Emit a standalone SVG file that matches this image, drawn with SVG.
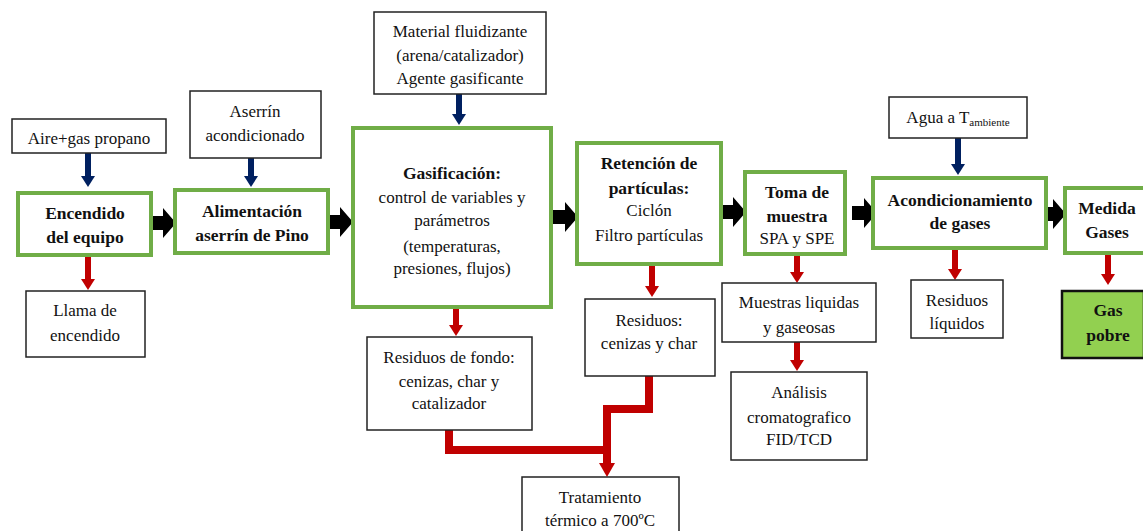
<svg xmlns="http://www.w3.org/2000/svg" width="1143" height="531" viewBox="0 0 1143 531">
<style>
.g{fill:#fff;stroke:#70AD47;stroke-width:4}
.b{fill:#fff;stroke:#222;stroke-width:1.5}
.t{font-family:"Liberation Serif","Times New Roman",serif;font-size:17px;fill:#111;text-anchor:middle}
.tb{font-family:"Liberation Serif","Times New Roman",serif;font-size:17.5px;font-weight:bold;fill:#111;text-anchor:middle}
.blue{stroke:#002060;stroke-width:6;fill:none}
.red{stroke:#C00000;stroke-width:6;fill:none}
.redw{stroke:#C00000;stroke-width:8;fill:none}
</style>
<defs>
<marker id="mb" markerUnits="userSpaceOnUse" markerWidth="11" markerHeight="14" refX="0" refY="7" orient="auto"><path d="M0,0 L11,7 L0,14 z" fill="#002060"/></marker>
<marker id="mr" markerUnits="userSpaceOnUse" markerWidth="11" markerHeight="14" refX="0" refY="7" orient="auto"><path d="M0,0 L11,7 L0,14 z" fill="#C00000"/></marker>
<marker id="mr2" markerUnits="userSpaceOnUse" markerWidth="14" markerHeight="16" refX="0" refY="8" orient="auto"><path d="M0,0 L14,8 L0,16 z" fill="#C00000"/></marker>
<path id="fat" d="M0,-7 L12,-7 L12,-15 L25,0 L12,15 L12,7 L0,7 z" fill="#000"/>
</defs>

<g id="connectors">
<use href="#fat" x="151" y="223"/>
<use href="#fat" x="328" y="222"/>
<use href="#fat" x="553" y="217"/>
<use href="#fat" x="721" y="212"/>
<use href="#fat" x="852" y="213"/>
<use href="#fat" x="1041" y="214"/>
<line class="blue" x1="88" y1="153" x2="88" y2="176" marker-end="url(#mb)"/>
<line class="blue" x1="251" y1="158" x2="251" y2="176" marker-end="url(#mb)"/>
<line class="blue" x1="459" y1="94" x2="459" y2="114" marker-end="url(#mb)"/>
<line class="blue" x1="958" y1="138" x2="958" y2="164" marker-end="url(#mb)"/>
<line class="red" x1="88" y1="257" x2="88" y2="279" marker-end="url(#mr)"/>
<line class="red" x1="456" y1="307" x2="456" y2="325" marker-end="url(#mr)"/>
<line class="red" x1="652" y1="264" x2="652" y2="286" marker-end="url(#mr)"/>
<line class="red" x1="797" y1="254" x2="797" y2="272" marker-end="url(#mr)"/>
<line class="red" x1="797" y1="342" x2="797" y2="360" marker-end="url(#mr)"/>
<line class="red" x1="955" y1="248" x2="955" y2="269" marker-end="url(#mr)"/>
<line class="red" x1="1108" y1="254" x2="1108" y2="274" marker-end="url(#mr)"/>
<path class="redw" d="M649,376 V409 H607"/>
<path class="redw" d="M449,430 V450 H607"/>
<line class="redw" x1="607" y1="405" x2="607" y2="463" marker-end="url(#mr2)"/>
</g>

<g id="aire"><rect class="b" x="12" y="119" width="154" height="34"/><text class="t" x="89" y="144">Aire+gas propano</text></g>
<g id="aserrin"><rect class="b" x="190" y="91" width="131" height="67"/><text class="t" x="255" y="117">Aserrín</text><text class="t" x="255" y="141">acondicionado</text></g>
<g id="encendido"><rect class="g" x="18" y="193" width="133" height="62"/><text class="tb" x="85" y="219">Encendido</text><text class="tb" x="85" y="243">del equipo</text></g>
<g id="alimentacion"><rect class="g" x="175" y="190" width="153" height="63"/><text class="tb" x="252" y="217">Alimentación</text><text class="tb" x="252" y="241">aserrín de Pino</text></g>
<g id="llama"><rect class="b" x="26" y="291" width="119" height="66"/><text class="t" x="85" y="316">Llama de</text><text class="t" x="85" y="341">encendido</text></g>
<g id="material"><rect class="b" x="374" y="12" width="172" height="82"/><text class="t" x="460" y="37">Material fluidizante</text><text class="t" x="460" y="61">(arena/catalizador)</text><text class="t" x="460" y="84">Agente gasificante</text></g>
<g id="gasificacion"><rect class="g" x="353" y="128" width="198" height="179"/><text class="tb" x="452" y="179">Gasificación:</text><text class="t" x="452" y="203">control de variables  y</text><text class="t" x="452" y="226">parámetros</text><text class="t" x="452" y="252">(temperaturas,</text><text class="t" x="452" y="274">presiones, flujos)</text></g>
<g id="retencion"><rect class="g" x="577" y="143" width="144" height="121"/><text class="tb" x="649" y="169">Retención de</text><text class="tb" x="649" y="194">partículas:</text><text class="t" x="649" y="216">Ciclón</text><text class="t" x="649" y="241">Filtro  partículas</text></g>
<g id="toma"><rect class="g" x="745" y="172" width="100" height="82"/><text class="tb" x="797" y="198">Toma de</text><text class="tb" x="797" y="222">muestra</text><text class="t" x="797" y="244">SPA y SPE</text></g>
<g id="acond"><rect class="g" x="873" y="178" width="173" height="70"/><text class="tb" x="960" y="206">Acondicionamiento</text><text class="tb" x="960" y="229">de gases</text></g>
<g id="medida"><rect class="g" x="1065" y="188" width="82" height="65"/><text class="tb" x="1107" y="214">Medida</text><text class="tb" x="1107" y="238">Gases</text></g>
<g id="agua"><rect class="b" x="889" y="97" width="138" height="41"/><text class="t" x="958" y="123">Agua a T<tspan font-size="11" dy="3">ambiente</tspan></text></g>
<g id="residuosfondo"><rect class="b" x="367" y="337" width="165" height="93"/><text class="t" x="449" y="363">Residuos de fondo:</text><text class="t" x="449" y="387">cenizas, char y</text><text class="t" x="449" y="409">catalizador</text></g>
<g id="residuoschar"><rect class="b" x="585" y="299" width="130" height="77"/><text class="t" x="649" y="326">Residuos:</text><text class="t" x="649" y="349">cenizas y char</text></g>
<g id="muestras"><rect class="b" x="722" y="283" width="154" height="59"/><text class="t" x="799" y="308">Muestras liquidas</text><text class="t" x="799" y="333">y gaseosas</text></g>
<g id="analisis"><rect class="b" x="731" y="372" width="136" height="88"/><text class="t" x="799" y="398">Análisis</text><text class="t" x="799" y="423">cromatografico</text><text class="t" x="799" y="445">FID/TCD</text></g>
<g id="residuosliq"><rect class="b" x="911" y="280" width="92" height="58"/><text class="t" x="957" y="306">Residuos</text><text class="t" x="957" y="329">líquidos</text></g>
<g id="gaspobre"><rect x="1062" y="291" width="82" height="67" fill="#92D050" stroke="#111" stroke-width="2.5"/><text class="tb" x="1108" y="316">Gas</text><text class="tb" x="1108" y="341">pobre</text></g>
<g id="tratamiento"><rect class="b" x="522" y="477" width="157" height="60"/><text class="t" x="600" y="503">Tratamiento</text><text class="t" x="600" y="526">térmico a 700ºC</text></g>
</svg>
